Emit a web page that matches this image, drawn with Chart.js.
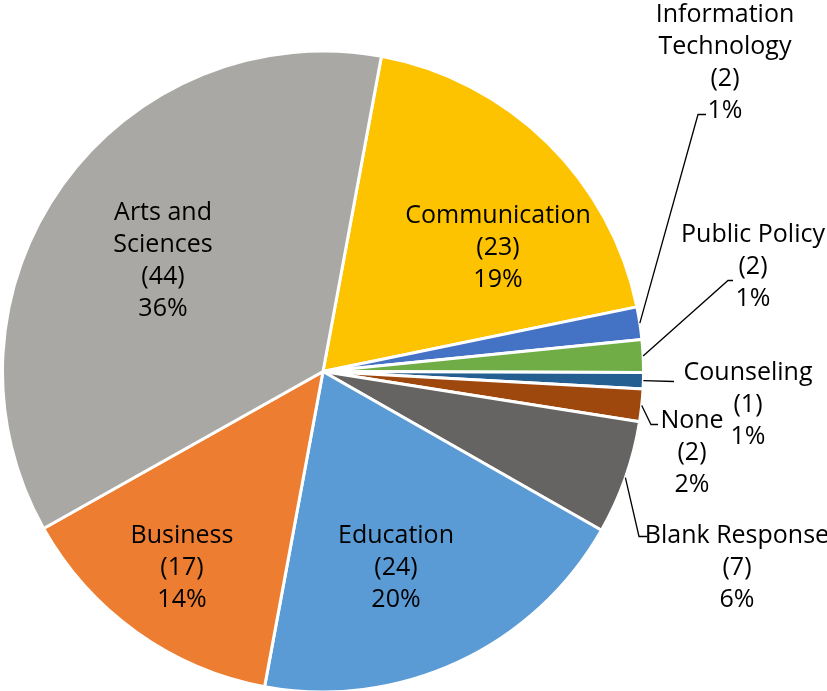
<!DOCTYPE html>
<html>
<head>
<meta charset="utf-8">
<script src="https://cdn.jsdelivr.net/npm/chart.js@4"></script>
<style>
  html, body { margin: 0; padding: 0; background: #ffffff; }
  #wrap { width: 827px; height: 691px; }
</style>
</head>
<body>
<div id="wrap"><canvas id="c" width="827" height="691"></canvas></div>
<script>
// ---- data ----
const categories = ['Communication', 'Information Technology', 'Public Policy', 'Counseling', 'None', 'Blank Response', 'Education', 'Business', 'Arts and Sciences'];
const counts = [23, 2, 2, 1, 2, 7, 24, 17, 44];
const percentLabels = ['19%', '1%', '1%', '1%', '2%', '6%', '20%', '14%', '36%'];
const nameLines = [['Communication'], ['Information', 'Technology'], ['Public Policy'], ['Counseling'], ['None'], ['Blank Response'], ['Education'], ['Business'], ['Arts and', 'Sciences']];
const sliceColors = ['#FDC200', '#4472C4', '#70AD47', '#255E91', '#9E480E', '#656462', '#5B9BD5', '#ED7D31', '#A9A8A5'];

// ---- label layout (offsets from pie centre, px) ----
const labelLayout = [
  { x: 175, y: -149 },
  { x: 402, y: -350, elbow: [375, -257], end: [383, -257] },
  { x: 430, y: -130, elbow: [405, -91], end: [410, -91] },
  { x: 425, y: 8, elbow: [351, 10], end: [351, 10] },
  { x: 369, y: 56, elbow: [328, 53], end: [335, 53] },
  { x: 414, y: 171, elbow: [316, 165], end: [324, 165] },
  { x: 73, y: 171 },
  { x: -141, y: 171 },
  { x: -160, y: -152 }
];

const labelPlugin = {
  id: 'sliceLabels',
  afterDatasetsDraw(chart) {
    const ctx = chart.ctx;
    const meta = chart.getDatasetMeta(0);
    ctx.save();
    ctx.font = '25px "Open Sans"';
    ctx.fillStyle = '#000000';
    ctx.textAlign = 'center';
    ctx.textBaseline = 'alphabetic';
    meta.data.forEach((arc, i) => {
      const p = arc.getProps(['x', 'y', 'startAngle', 'endAngle', 'outerRadius'], true);
      const L = labelLayout[i];
      const lines = nameLines[i].concat(['(' + counts[i] + ')', percentLabels[i]]);
      lines.forEach((t, k) => ctx.fillText(t, p.x + L.x, p.y + L.y + k * 32));
      if (L.elbow) {
        const mid = (p.startAngle + p.endAngle) / 2;
        const sx = p.x + Math.cos(mid) * p.outerRadius;
        const sy = p.y + Math.sin(mid) * p.outerRadius;
        ctx.beginPath();
        ctx.strokeStyle = '#000000';
        ctx.lineWidth = 1.3;
        ctx.moveTo(sx, sy);
        ctx.lineTo(p.x + L.elbow[0], p.y + L.elbow[1]);
        ctx.lineTo(p.x + L.end[0], p.y + L.end[1]);
        ctx.stroke();
      }
    });
    ctx.restore();
  }
};

new Chart(document.getElementById('c'), {
  type: 'pie',
  data: {
    labels: categories,
    datasets: [{
      data: counts,
      backgroundColor: sliceColors,
      borderColor: '#ffffff',
      borderWidth: 3
    }]
  },
  options: {
    responsive: false,
    animation: false,
    devicePixelRatio: 1,
    rotation: 10.5,
    radius: 320.5,
    layout: { padding: { left: 3, top: 52, right: 184, bottom: 0 } },
    plugins: {
      legend: { display: false },
      tooltip: { enabled: false }
    }
  },
  plugins: [labelPlugin]
});
</script>
</body>
</html>
